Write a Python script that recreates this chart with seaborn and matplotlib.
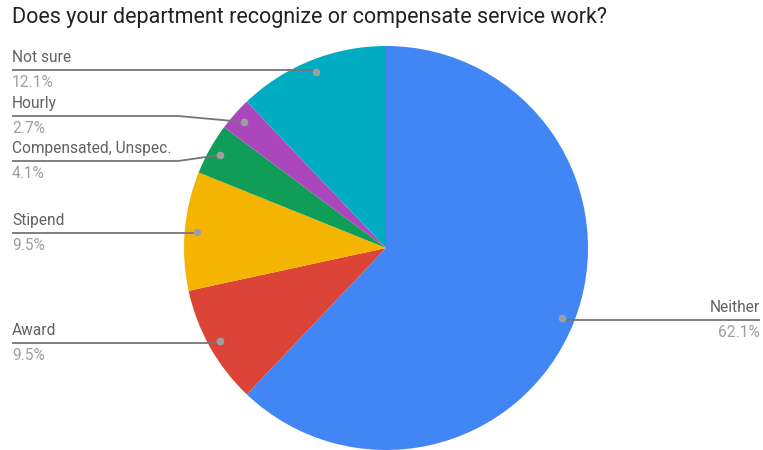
import numpy as np
import matplotlib
matplotlib.use("Agg")
import matplotlib.pyplot as plt
import seaborn as sns

# Survey responses
categories = ["Neither", "Award", "Stipend", "Compensated, Unspec.", "Hourly", "Not sure"]
shares = [62.1, 9.5, 9.5, 4.1, 2.7, 12.1]
pct_labels = ["62.1%", "9.5%", "9.5%", "4.1%", "2.7%", "12.1%"]
colors = ["#4285F4", "#DB4437", "#F4B400", "#0F9D58", "#AB47BC", "#00ACC1"]

sns.set_theme(style="white")
plt.rcParams["font.family"] = ["Roboto", "DejaVu Sans"]

W, H = 763, 450
fig = plt.figure(figsize=(W / 100, H / 100), dpi=100)
ax = fig.add_axes([0, 0, 1, 1])

cx, cy, R = 386, H - 248, 202
wedges, _ = ax.pie(shares, colors=colors, startangle=90, counterclock=False,
                   center=(cx, cy), radius=R, frame=True,
                   wedgeprops=dict(linewidth=0))
ax.set_xlim(0, W)
ax.set_ylim(0, H)
ax.axis("off")

# label rows (pixel rows from top) for each annotation
label_rows = {"Neither": 320, "Award": 343, "Stipend": 233,
              "Compensated, Unspec.": 161, "Hourly": 116, "Not sure": 70}
line_c = "#757575"
fs = 11.2
for w, name, pct in zip(wedges, categories, pct_labels):
    mid = np.deg2rad((w.theta1 + w.theta2) / 2)
    dx, dy = cx + 0.94 * R * np.cos(mid), cy + 0.94 * R * np.sin(mid)
    ly = H - label_rows[name]
    if dx > cx:
        x_end = 760
        ax.plot([dx, x_end], [ly, ly], color=line_c, lw=1.3, solid_capstyle="butt")
        ax.text(x_end, ly + 5, name, ha="right", va="bottom", fontsize=fs, color="#616161")
        ax.text(x_end, ly - 5, pct, ha="right", va="top", fontsize=fs, color="#9E9E9E")
    else:
        x_end = 12
        knee = 178 if abs(ly - dy) > 2 else dx
        ax.plot([x_end, knee, dx], [ly, ly, dy], color=line_c, lw=1.3, solid_capstyle="butt")
        ax.text(x_end, ly + 5, name, ha="left", va="bottom", fontsize=fs, color="#616161")
        ax.text(x_end, ly - 5, pct, ha="left", va="top", fontsize=fs, color="#9E9E9E")
    ax.plot(dx, dy, "o", color="#9E9E9E", ms=4.5, zorder=5)

fig.text(12 / W, 1 - 18 / H, "Does your department recognize or compensate service work?",
         ha="left", va="center", fontsize=15.5, color="#212121")

fig.savefig("out.png", dpi=100)
